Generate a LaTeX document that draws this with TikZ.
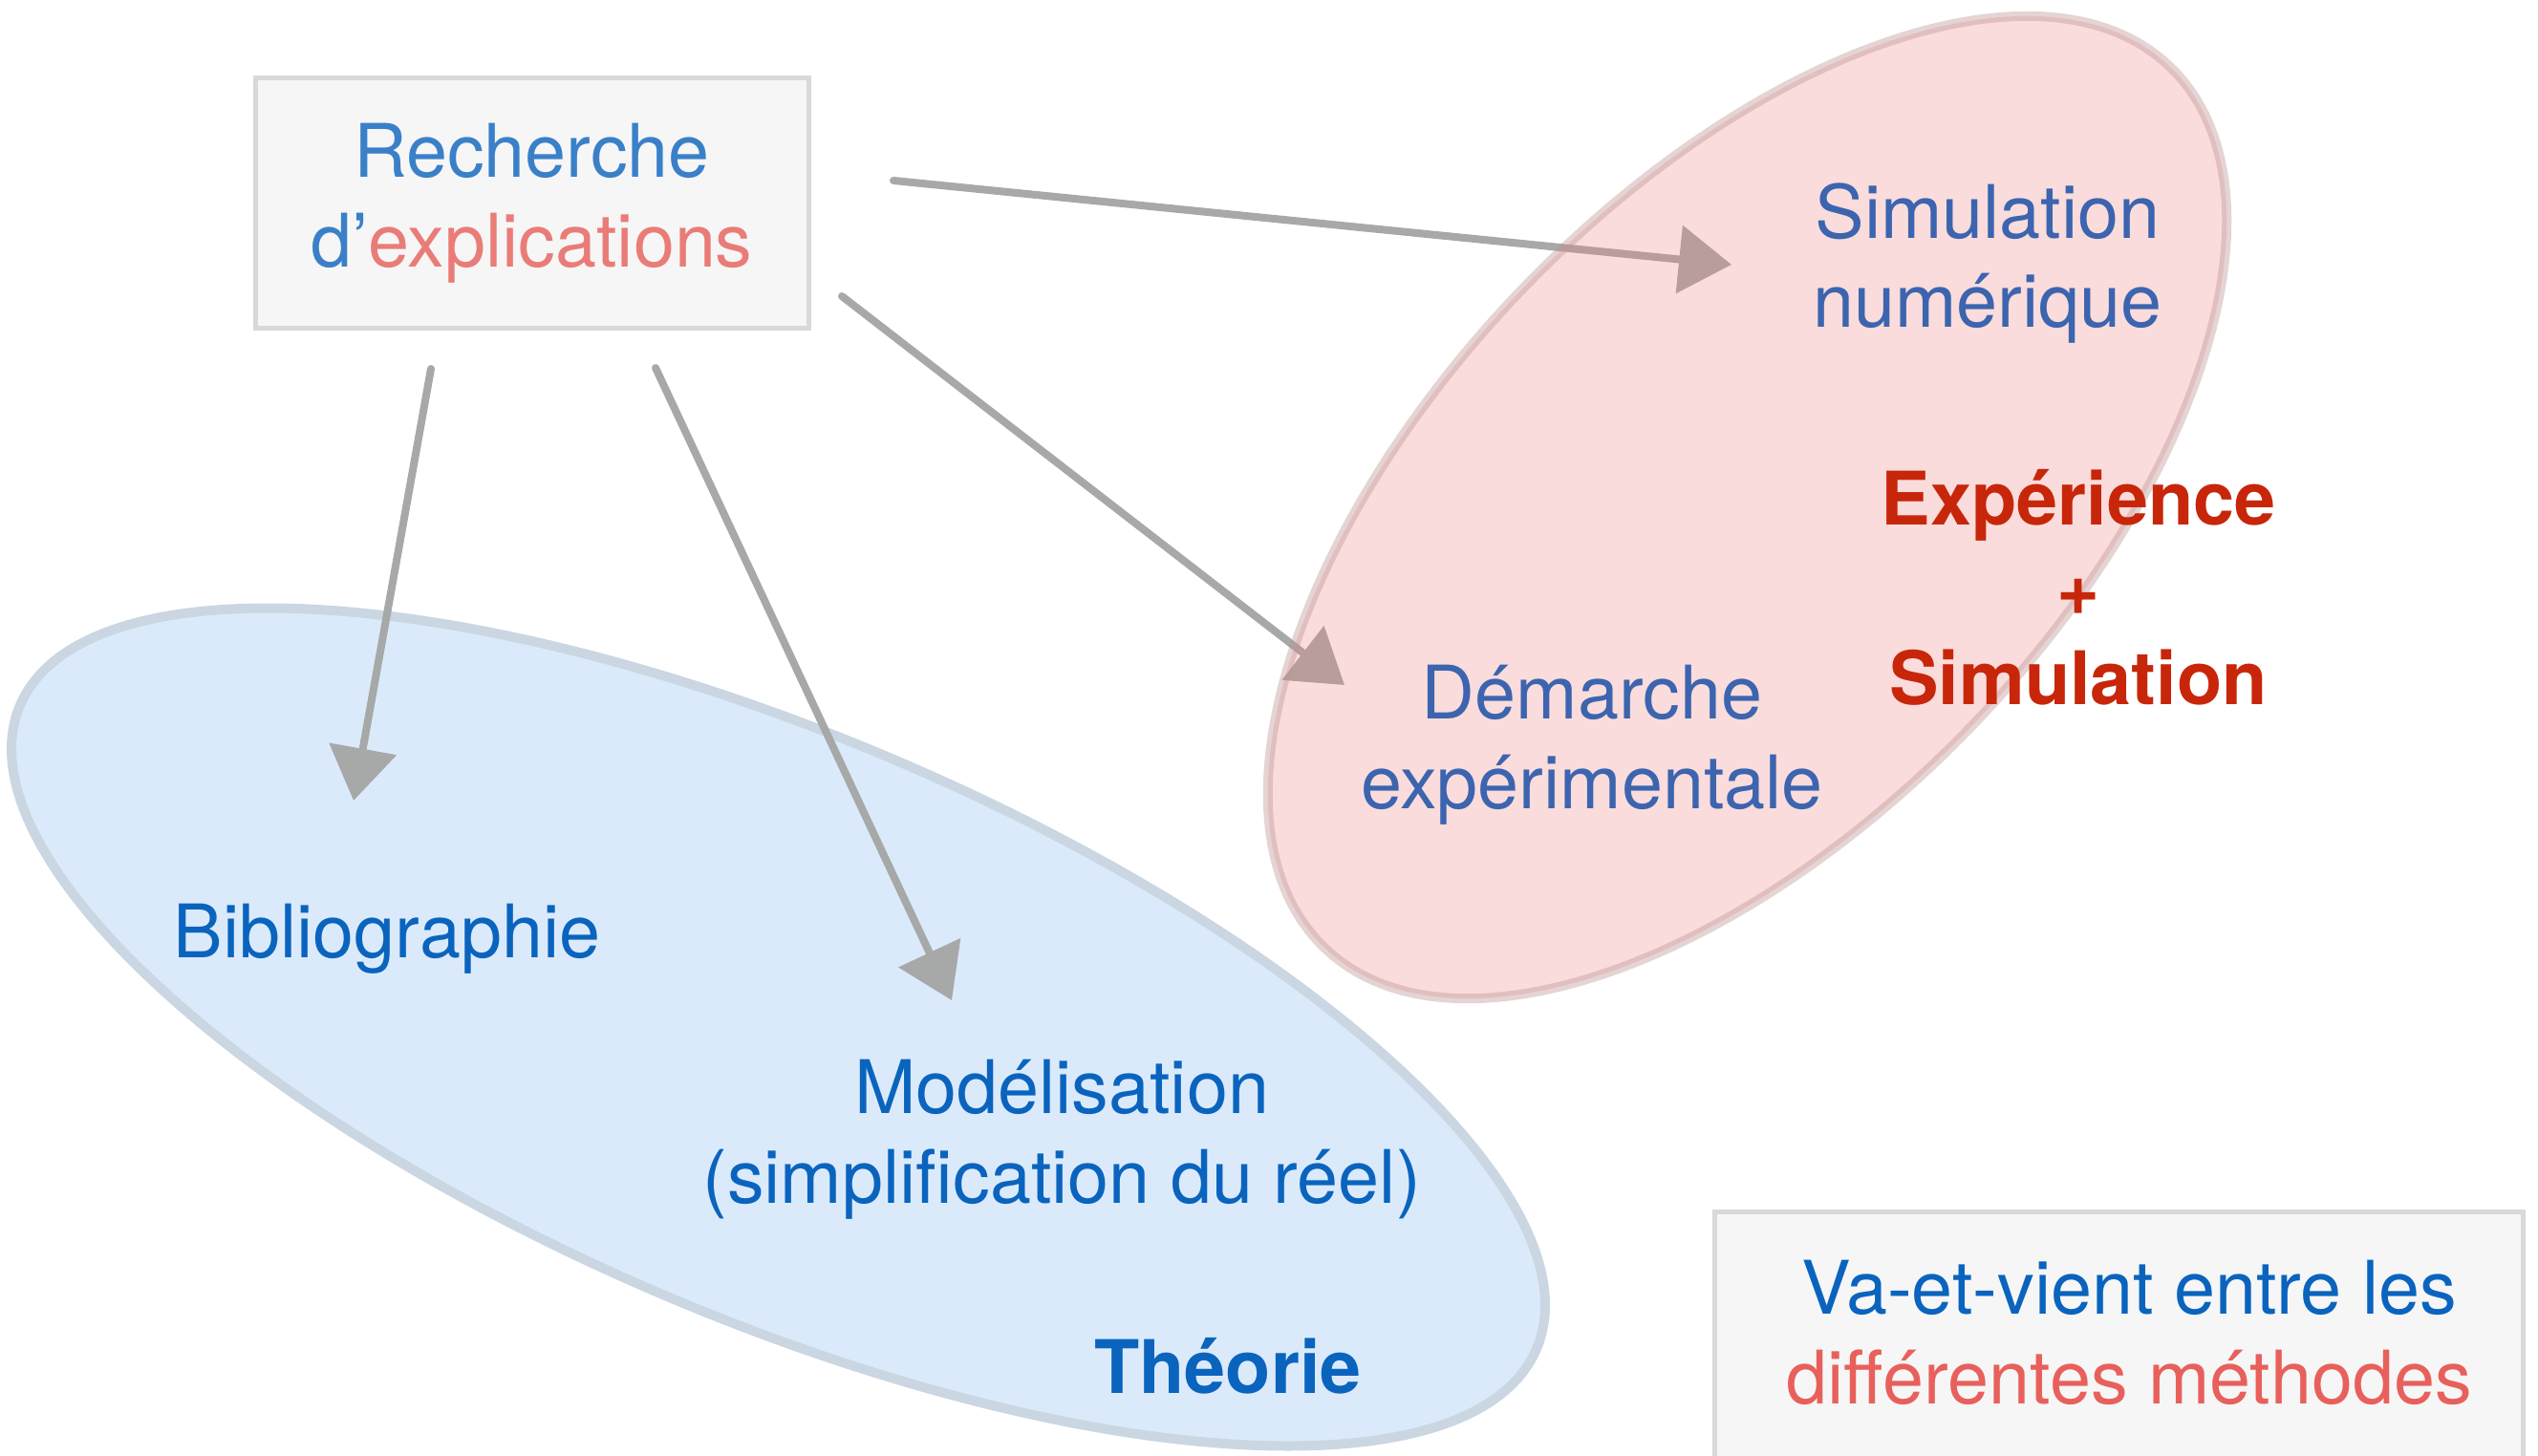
\documentclass[tikz,border=0pt]{standalone}
\usepackage{fontspec}
\setmainfont{TeX Gyre Heros}
\usetikzlibrary{positioning, calc}
\usetikzlibrary{arrows.meta,backgrounds}
\definecolor{rechblue}{RGB}{58,128,200}
\definecolor{salmon}{RGB}{234,124,120}
\definecolor{simblue}{RGB}{60,100,175}
\definecolor{theoblue}{RGB}{10,100,190}
\definecolor{expred}{RGB}{200,38,10}
\definecolor{methred}{RGB}{232,96,92}
\definecolor{boxgray}{RGB}{217,217,217}
\definecolor{boxfill}{RGB}{246,246,246}
\definecolor{pencilgray}{RGB}{166,169,167}
\definecolor{theofill}{RGB}{219,234,251}
\definecolor{theoline}{RGB}{202,214,226}
\definecolor{expfill}{RGB}{233,126,122}
\definecolor{expline}{RGB}{190,148,147}
\tikzset{
    lbl/.style={align=center, inner sep=0pt, font=\fontsize{22}{26.7}\selectfont},
    pencil/.style={draw=pencilgray, line width=0.08cm, line cap=round, -{Triangle[length=0.55cm,width=0.7cm]}},
}
\newcommand{\fleche}[2]{
    \draw[pencil] (#1) -- (#2);
}
\begin{document}
\begin{tikzpicture}
    \useasboundingbox (0,0) rectangle (26.56,15.23);
    \node[lbl, draw=boxgray, fill=boxfill, line width=0.05cm, minimum width=5.79cm, minimum height=2.62cm] (rech) at (5.565,13.10) {\color{rechblue}Recherche\\\color{rechblue}d’\color{salmon}explications};
    \node[lbl, text=simblue] (sim) at (20.80,12.475) {Simulation\\numérique};
    \node[lbl, text=simblue] (dem) at (16.66,7.435) {Démarche\\expérimentale};
    \node[lbl, text=expred, font=\fontsize{22}{26.7}\selectfont\bfseries] (exps) at (21.75,9.08) {Expérience\\+\\Simulation};
    \node[lbl, text=theoblue] (bib) at (4.05,5.40) {Bibliographie};
    \node[lbl, text=theoblue] (mod) at (11.11,3.305) {Modélisation\\(simplification du réel)};
    \node[lbl, text=theoblue, font=\fontsize{22}{26.7}\selectfont\bfseries] (theo) at (12.85,0.93) {Théorie};
    \node[lbl] (vav) at (22.28,1.28) {\color{theoblue}Va-et-vient entre les\\\color{methred}différentes méthodes};
    \coordinate (bibS) at (4.51,11.37);
    \coordinate (bibE) at (3.70,6.85);
    \coordinate (modS) at (6.86,11.38);
    \coordinate (modE) at (9.96,4.76);
    \coordinate (demS) at (8.81,12.13);
    \coordinate (demE) at (14.07,8.06);
    \coordinate (simS) at (9.35,13.34);
    \coordinate (simE) at (18.12,12.46);
    \begin{scope}[on background layer]
        \draw[fill=theofill, draw=theoline, line width=0.1cm, shift={(8.145,4.48)}, rotate=-23] (0,0) ellipse (8.62 and 3.05);
        \draw[draw=boxgray, fill=boxfill, line width=0.05cm] (17.94,2.55) rectangle (26.40,-0.5);
        \fleche{bibS}{bibE}
        \fleche{modS}{modE}
        \fleche{demS}{demE}
        \fleche{simS}{simE}
        \draw[fill=expfill, fill opacity=0.27, draw=expline, draw opacity=0.4, line width=0.1cm, shift={(18.285,9.92)}, rotate=46.2] (0,0) ellipse (6.39 and 3.28);
    \end{scope}
\end{tikzpicture}
\end{document}
